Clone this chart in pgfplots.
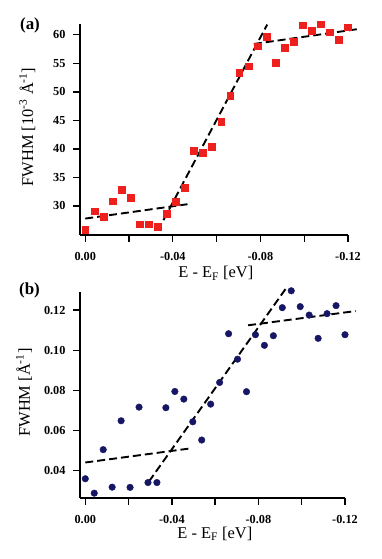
\documentclass[border=0pt]{standalone}
\usepackage{fontspec}
\setmainfont{Liberation Serif}
\usepackage{pgfplots}
\pgfplotsset{compat=1.18}
\definecolor{sqred}{RGB}{238,32,30}
\definecolor{navy}{RGB}{22,22,100}

\pgfplotsset{
  fwhm/.style={
    scale only axis,
    axis x line=bottom, axis y line=left,
    axis line style={-, line width=1.6bp, black},
    x dir=reverse,
    xmin=-0.12,
    xtick={0,-0.02,-0.04,-0.06,-0.08,-0.10,-0.12},
    xticklabels={0.00,,-0.04,,-0.08,,-0.12},
    tick align=outside,
    major tick length=7bp,
    major tick style={line width=1.3bp, black},
    tick label style={font=\bfseries\fontsize{12.3}{13}\selectfont},
    xticklabel style={yshift=-6.5bp},
    yticklabel style={xshift=-4bp},
    label style={font=\fontsize{16.5}{18}\selectfont},
    clip=false,
  },
  fit/.style={black, line width=1.9bp, dash pattern=on 8bp off 4bp},
}

\begin{document}
\begin{tikzpicture}
\path[use as bounding box] (0,0) rectangle (382bp,559bp);

% ---------------- panel (a) ----------------
\begin{axis}[fwhm,
  at={(80bp,324bp)}, anchor=south west,
  width=268bp, height=211bp,
  xmax=0.0024,
  ymin=24.9, ymax=61.9,
  ytick={30,35,40,45,50,55,60},
  yticklabels={30,35,40,45,50,55,60},
  xlabel={E - E\textsubscript{F} [eV]},
  ylabel={FWHM [10\textsuperscript{-3} Å\textsuperscript{-1}]},
  xlabel style={at={(axis description cs:0.507,-0.203)}, anchor=base},
  ylabel style={at={(axis description cs:-0.175,0.512)}, anchor=base},
]
\addplot[only marks, mark=square*, mark size=3.4bp, color=sqred] coordinates {
(0.00000,25.85) (-0.00414,29.06) (-0.00828,28.07) (-0.01241,30.81) (-0.01655,32.80)
(-0.02069,31.40) (-0.02483,26.80) (-0.02897,26.80) (-0.03310,26.32) (-0.03724,28.65)
(-0.04138,30.70) (-0.04552,33.20) (-0.04966,39.63) (-0.05379,39.40) (-0.05793,40.33)
(-0.06207,44.82) (-0.06621,49.26) (-0.07034,53.29) (-0.07448,54.51) (-0.07862,58.02)
(-0.08276,59.71) (-0.08690,55.10) (-0.09103,57.78) (-0.09517,58.83) (-0.09931,61.69)
(-0.10345,60.70) (-0.10759,61.87) (-0.11172,60.47) (-0.11586,59.12) (-0.12000,61.34)
};
\addplot[fit] coordinates {(0.0,27.78) (-0.0467,30.3)};
\addplot[fit] coordinates {(-0.0357,27.5) (-0.0831,61.8)};
\addplot[fit] coordinates {(-0.0770,58.4) (-0.1253,61.05)};
\end{axis}

% ---------------- panel (b) ----------------
\begin{axis}[fwhm,
  at={(80bp,61bp)}, anchor=south west,
  width=265bp, height=206bp,
  xmax=0.00245,
  ymin=0.0263, ymax=0.129,
  ytick={0.04,0.06,0.08,0.10,0.12},
  yticklabels={0.04,0.06,0.08,0.10,0.12},
  xlabel={E - E\textsubscript{F} [eV]},
  ylabel={FWHM [Å\textsuperscript{-1}]},
  xlabel style={at={(axis description cs:0.509,-0.196)}, anchor=base},
  ylabel style={at={(axis description cs:-0.189,0.512)}, anchor=base},
]
\addplot[only marks, mark=*, mark size=3.3bp, color=navy] coordinates {
(0.00000,0.0359) (-0.00414,0.0287) (-0.00828,0.0504) (-0.01241,0.0317) (-0.01655,0.0648)
(-0.02069,0.0316) (-0.02483,0.0716) (-0.02897,0.0340) (-0.03310,0.0340) (-0.03724,0.0713)
(-0.04138,0.0794) (-0.04552,0.0756) (-0.04966,0.0643) (-0.05379,0.0552) (-0.05793,0.0731)
(-0.06207,0.0839) (-0.06621,0.1082) (-0.07034,0.0955) (-0.07448,0.0793) (-0.07862,0.1077)
(-0.08276,0.1024) (-0.08690,0.1072) (-0.09103,0.1212) (-0.09517,0.1296) (-0.09931,0.1217)
(-0.10345,0.1175) (-0.10759,0.1059) (-0.11172,0.1182) (-0.11586,0.1222) (-0.12000,0.1077)
};
\addplot[fit] coordinates {(0.0,0.0440) (-0.0491,0.0511)};
\addplot[fit] coordinates {(-0.0294,0.0345) (-0.0926,0.1306)};
\addplot[fit] coordinates {(-0.0752,0.1124) (-0.1249,0.1195)};
\end{axis}

\node[font=\bfseries\fontsize{17}{18}\selectfont] at (30bp,534bp) {(a)};
\node[font=\bfseries\fontsize{17}{18}\selectfont] at (29.5bp,269bp) {(b)};
\end{tikzpicture}
\end{document}
